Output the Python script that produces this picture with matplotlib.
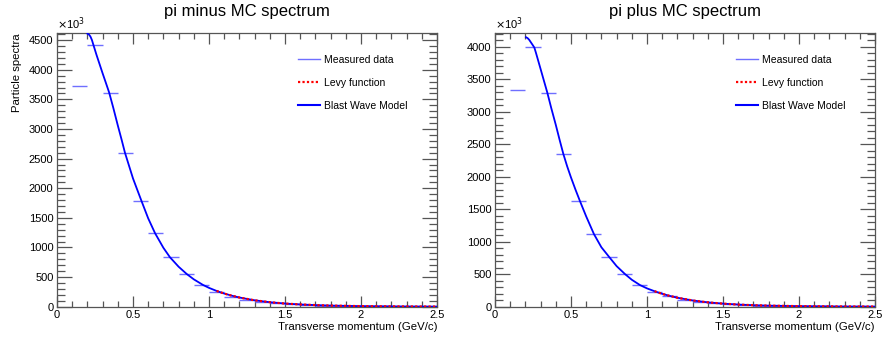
import numpy as np
import matplotlib
matplotlib.use("Agg")
import matplotlib.pyplot as plt
from matplotlib.ticker import MultipleLocator, FuncFormatter
from matplotlib.lines import Line2D

plt.rcParams['font.family'] = ['Liberation Sans', 'DejaVu Sans']

# bins (GeV/c)
bin_lo = [0.1, 0.2, 0.3, 0.4, 0.5, 0.6, 0.7, 0.8, 0.9, 1.0, 1.1, 1.2,
          1.3, 1.4, 1.5, 1.6, 1.7, 1.8, 1.9, 2.0, 2.1, 2.2, 2.3, 2.4]
bin_w = 0.1

# measured spectra (x10^3)
minus_data = [3720, 4410, 3615, 2600, 1777, 1241, 835, 553, 367, 245, 170, 115,
              78, 55, 38, 26, 18, 12, 8.5, 6, 4, 3, 2, 1.5]
plus_data = [3333, 4000, 3298, 2349, 1626, 1118, 769, 503, 333, 230, 160, 110,
             75, 52, 36, 25, 17, 12, 8, 5.5, 4, 2.8, 2, 1.4]

# Blast wave model curves (read points)
bw_x_minus = [0.2, 0.21, 0.22, 0.23, 0.237, 0.26, 0.28, 0.3, 0.32, 0.343, 0.37, 0.4,
              0.425, 0.447, 0.475, 0.5, 0.53, 0.557, 0.6, 0.645, 0.7, 0.743, 0.8,
              0.853, 0.9, 0.96, 1.0, 1.05, 1.1, 1.15, 1.2, 1.3, 1.4, 1.5, 1.6,
              1.7, 1.8, 2.0, 2.25, 2.5]
bw_y_minus = [4610, 4595, 4560, 4500, 4440, 4250, 4095, 3940, 3790, 3616, 3360, 3060,
              2820, 2600, 2370, 2165, 1960, 1777, 1491, 1241, 994, 835, 675,
              553, 462, 368, 318, 266, 222, 186, 155, 108, 76, 53, 38,
              27, 19, 9.5, 4.5, 2]
bw_x_plus = [0.204, 0.215, 0.225, 0.235, 0.248, 0.259, 0.27, 0.3, 0.32, 0.344, 0.37,
             0.4, 0.425, 0.45, 0.475, 0.5, 0.53, 0.559, 0.6, 0.651, 0.7, 0.75, 0.8,
             0.855, 0.9, 0.954, 1.0, 1.05, 1.1, 1.15, 1.2, 1.3, 1.4, 1.5, 1.6,
             1.7, 1.8, 2.0, 2.25, 2.5]
bw_y_plus = [4150, 4135, 4110, 4075, 4030, 3990, 3905, 3660, 3495, 3298, 3060,
             2800, 2570, 2349, 2160, 1990, 1800, 1626, 1390, 1118, 915, 769, 625,
             503, 415, 333, 282, 238, 198, 166, 138, 96, 67, 47, 33,
             23, 16.5, 8.5, 4, 1.8]

# Levy function curves (read points)
levy_x = [1.05, 1.1, 1.15, 1.2, 1.3, 1.4, 1.5, 1.6, 1.7, 1.8, 2.0, 2.25, 2.5]
levy_y_minus = [266, 222, 186, 155, 108, 76, 53, 38, 27, 19, 9.5, 4.5, 2]
levy_y_plus = [238, 198, 166, 138, 96, 67, 47, 33, 23, 16.5, 8.5, 4, 1.8]

panels = [
    dict(title="pi minus MC spectrum", data=minus_data, bx=bw_x_minus, by=bw_y_minus,
         ly=levy_y_minus, ymax=4620, pos=[57/885, 1-306.7/340, 380/885, 273.7/340], ylabel=True),
    dict(title="pi plus MC spectrum", data=plus_data, bx=bw_x_plus, by=bw_y_plus,
         ly=levy_y_plus, ymax=4215, pos=[495/885, 1-306.7/340, 380/885, 273.7/340], ylabel=False),
]

fig = plt.figure(figsize=(8.85, 3.4), dpi=100)
frame_col = '#555555'
meas_col = '#6f6fff'

for p in panels:
    ax = fig.add_axes(p['pos'])
    centers = np.array(bin_lo) + bin_w / 2
    ax.errorbar(centers, p['data'], xerr=bin_w / 2, fmt='none', ecolor=meas_col,
                elinewidth=1.0, capsize=0, zorder=2)
    ax.plot(p['bx'], p['by'], color='#0000ff', lw=1.3, zorder=3)
    ax.plot(levy_x, p['ly'], color='#ff0000', ls=(0, (1, 1)), lw=1.6, zorder=4)
    ax.set_xlim(0, 2.5)
    ax.set_ylim(0, p['ymax'])
    ax.xaxis.set_major_locator(MultipleLocator(0.5))
    ax.xaxis.set_minor_locator(MultipleLocator(0.1))
    ax.yaxis.set_major_locator(MultipleLocator(500))
    ax.yaxis.set_minor_locator(MultipleLocator(100))
    ax.xaxis.set_major_formatter(FuncFormatter(lambda v, _: f"{v:g}"))
    ax.yaxis.set_major_formatter(FuncFormatter(lambda v, _: f"{v:g}"))
    ax.tick_params(which='both', direction='in', top=True, right=True,
                   colors=frame_col, labelcolor='black', labelsize=8, pad=2.5)
    ax.tick_params(axis='y', which='major', length=11, width=0.9)
    ax.tick_params(axis='y', which='minor', length=5.5, width=0.9)
    ax.tick_params(axis='x', which='major', length=8, width=0.9)
    ax.tick_params(axis='x', which='minor', length=4.5, width=0.9)
    for s in ax.spines.values():
        s.set_color(frame_col)
        s.set_linewidth(0.9)
    ax.set_title(p['title'], fontsize=12, pad=12)
    ax.set_xlabel("Transverse momentum (GeV/c)", loc='right', fontsize=8.2, labelpad=1.5)
    if p['ylabel']:
        ax.set_ylabel("Particle spectra", loc='top', fontsize=8.2, labelpad=5)
    ax.text(0.0, 1.005, r"$\times$10$^3$", transform=ax.transAxes, fontsize=8,
            ha='left', va='bottom')
    handles = [Line2D([], [], color=meas_col, lw=1.0),
               Line2D([], [], color='#ff0000', ls=(0, (1, 1)), lw=1.6),
               Line2D([], [], color='#0000ff', lw=1.5)]
    labels = ['Measured data', 'Levy function', 'Blast Wave Model']
    ax.legend(handles, labels, loc='upper left', bbox_to_anchor=(0.635, 0.92),
              frameon=False, fontsize=7.5, handlelength=2.1, handletextpad=0.35,
              labelspacing=1.25, borderaxespad=0, borderpad=0)

fig.savefig("out.png", dpi=100)
